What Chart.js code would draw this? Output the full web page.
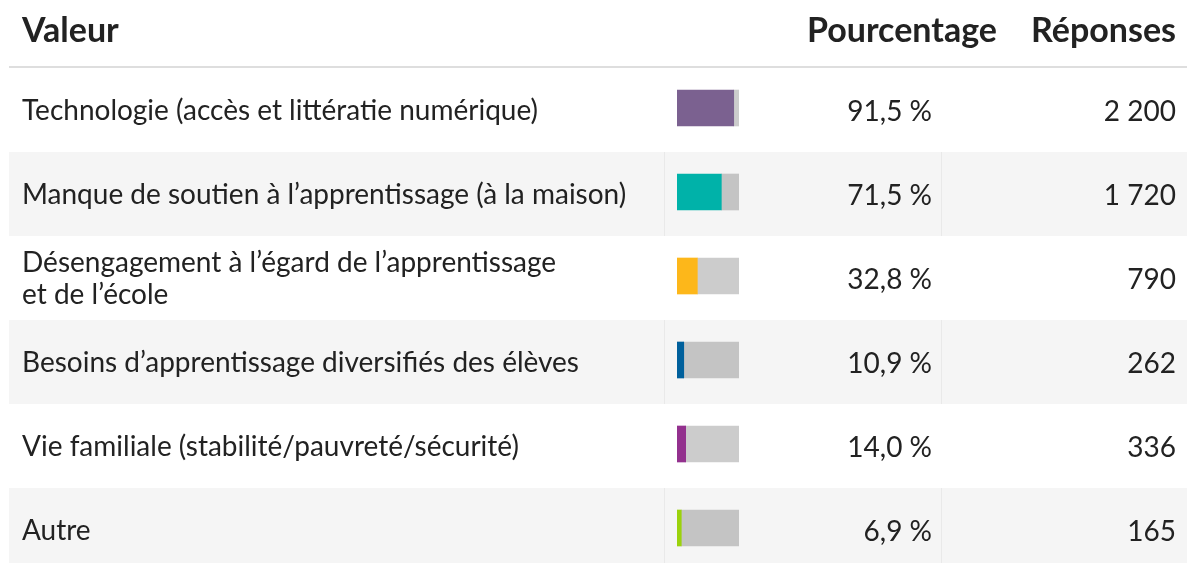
<!DOCTYPE html>
<html>
<head>
<meta charset="utf-8">
<script src="https://cdn.jsdelivr.net/npm/chart.js@4.4.1/dist/chart.umd.min.js"></script>
<style>
  html, body { margin: 0; background: #fff; overflow: hidden; }
  #wrap { width: 1187px; height: 600px; position: relative; }
</style>
</head>
<body>
<div id="wrap"><canvas id="chart"></canvas></div>
<script>
const categories = [
  "Technologie (accès et littératie numérique)",
  "Manque de soutien à l’apprentissage (à la maison)",
  ["Désengagement à l’égard de l’apprentissage", "et de l’école"],
  "Besoins d’apprentissage diversifiés des élèves",
  "Vie familiale (stabilité/pauvreté/sécurité)",
  "Autre"
];
const percentages = [91.5, 71.5, 32.8, 10.9, 14.0, 6.9];
const responses = [2200, 1720, 790, 262, 336, 165];
const bar_colours = ["#7b6190", "#00b2a9", "#fdb71a", "#00609c", "#93318e", "#9bd20c"];
const headers = ["Valeur", "Pourcentage", "Réponses"];

const FONT = "Lato, 'Open Sans', sans-serif";

function fmt_pct(v) {
  return v.toFixed(1).replace(".", ",") + " %";
}
function fmt_count(n) {
  return String(n).replace(/\B(?=(\d{3})+(?!\d))/g, " ");
}

// row stripes, header and the two number columns
const table_plugin = {
  id: "table",
  beforeDraw(chart) {
    const ctx = chart.ctx;
    const y = chart.scales.y;
    ctx.save();
    categories.forEach((c, i) => {
      const p = y.getPixelForValue(i);
      if (i % 2 === 1) {
        ctx.fillStyle = "#f5f5f5";
        ctx.fillRect(9, p - 40, 1178, 84);
        ctx.fillStyle = "#e9e9e9";
        ctx.fillRect(664, p - 40, 1, 84);
        ctx.fillRect(941, p - 40, 1, 84);
      }
    });
    ctx.fillStyle = "#dedede";
    ctx.fillRect(9, 66, 1178, 2);
    ctx.restore();
  },
  afterDraw(chart) {
    const ctx = chart.ctx;
    const y = chart.scales.y;
    ctx.save();
    ctx.fillStyle = "#222";
    ctx.textBaseline = "alphabetic";
    ctx.font = "bold 34px " + FONT;
    ctx.textAlign = "left";
    ctx.fillText(headers[0], 22, 42);
    ctx.textAlign = "right";
    ctx.fillText(headers[1], 997, 42);
    ctx.fillText(headers[2], 1176, 42);
    ctx.font = "28px " + FONT;
    percentages.forEach((v, i) => {
      const p = y.getPixelForValue(i) + 13;
      ctx.fillText(fmt_pct(v), 932, p);
      ctx.fillText(fmt_count(responses[i]), 1176, p);
    });
    ctx.restore();
  }
};

new Chart(document.getElementById("chart"), {
  type: "bar",
  data: {
    labels: categories,
    datasets: [
      {
        data: percentages,
        backgroundColor: bar_colours,
        barThickness: 36
      },
      {
        data: percentages.map((v) => 100 - v),
        backgroundColor: "rgba(0,0,0,0.2)",
        barThickness: 36
      }
    ]
  },
  options: {
    indexAxis: "y",
    responsive: true,
    maintainAspectRatio: false,
    animation: false,
    layout: { padding: { left: 22, right: 448, top: 66, bottom: 30 } },
    plugins: { legend: { display: false }, tooltip: { enabled: false } },
    scales: {
      x: { stacked: true, min: 0, max: 100, display: false },
      y: {
        stacked: true,
        grid: { display: false },
        border: { display: false },
        afterFit: (s) => { s.width = 655; },
        ticks: {
          crossAlign: "far",
          color: "#222",
          labelOffset: 3,
          font: { family: FONT, size: 28, lineHeight: 1.12 }
        }
      }
    }
  },
  plugins: [table_plugin]
});
</script>
</body>
</html>
